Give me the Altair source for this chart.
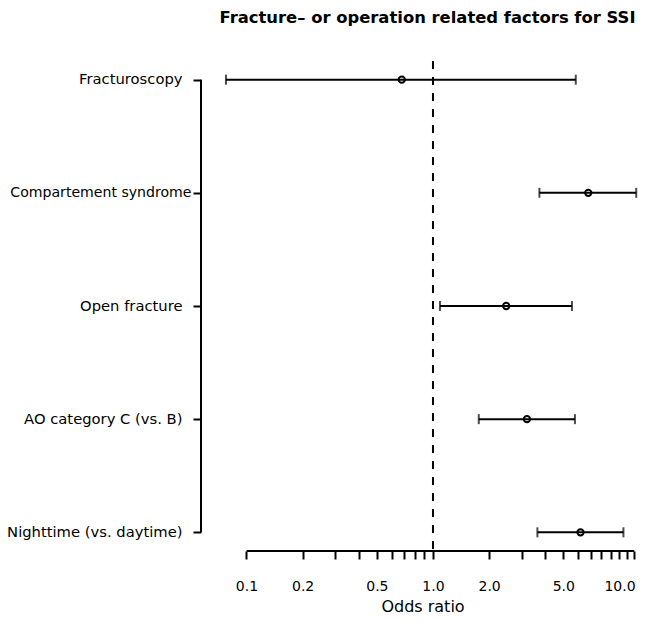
import altair as alt
import pandas as pd

# ---- data ----
categories = ["Fracturoscopy", "Compartement syndrome", "Open fracture",
              "AO category C (vs. B)", "Nighttime (vs. daytime)"]
odds_ratio = [0.68, 6.80, 2.47, 3.19, 6.18]
ci_lower = [0.0776, 3.72, 1.09, 1.76, 3.63]
ci_upper = [5.83, 12.3, 5.56, 5.77, 10.5]
tick_values = [0.1, 0.2, 0.3, 0.4, 0.5, 0.6, 0.7, 0.8, 0.9,
               1, 2, 3, 4, 5, 6, 7, 8, 9, 10, 11, 12]
label_values = [0.1, 0.2, 0.5, 1, 2, 5, 10]
reference_or = [1]
chart_title = "Fracture\u2013 or operation related factors for SSI"
x_title = "Odds ratio"

df = pd.DataFrame({"factor": categories, "or": odds_ratio,
                   "lo": ci_lower, "hi": ci_upper})
ref_df = pd.DataFrame({"ref": reference_or})
yline_df = pd.DataFrame({"a": [categories[0]], "b": [categories[-1]]})
xline_df = pd.DataFrame({"a": [tick_values[0]], "b": [tick_values[-1]]})

W, H = 437, 490
FONT = "DejaVu Sans"

xscale = alt.Scale(type="log", domain=[0.05702, 12.57], nice=False)
yscale = alt.Scale(type="point", domain=categories, padding=0.165)

long_label_test = f"datum.value === '{categories[1]}'"

xaxis = alt.Axis(
    title=x_title, values=tick_values, domain=False, grid=False,
    ticks=True, tickSize=8, tickWidth=2, tickColor="black",
    labelExpr=f"indexof({label_values}, datum.value) >= 0 ? format(datum.value, '.1f') : ''",
    labelFont=FONT, labelFontSize=14, labelColor="black", labelPadding=20,
    labelOverlap=False, labelFlush=False, labelBound=False,
    titleFont=FONT, titleFontSize=16, titleFontWeight="normal",
    titleColor="black", titleY=60.5, titleX=221.5, titleAlign="center",
    titleBaseline="alphabetic",
)
yaxis = alt.Axis(
    title=None, domain=False, grid=False, ticks=True, tickSize=8,
    tickWidth=2, tickColor="black",
    labelFont=FONT, labelColor="black", labelLimit=0,
    labelFontSize={"condition": {"test": long_label_test, "value": 14.1},
                   "value": 14.75},
    labelPadding={"condition": {"test": long_label_test, "value": 2},
                  "value": 11},
)

base = alt.Chart(df)

dashed = alt.Chart(ref_df).mark_rule(
    strokeDash=[8, 8], strokeWidth=2, color="black"
).encode(
    x=alt.X("ref:Q", scale=xscale, axis=xaxis),
    y=alt.value(0), y2=alt.value(H),
)

bars = base.mark_rule(strokeWidth=2, color="black").encode(
    x=alt.X("lo:Q", scale=xscale, axis=xaxis), x2="hi:Q",
    y=alt.Y("factor:N", scale=yscale, axis=yaxis),
)
cap_lo = base.mark_tick(thickness=2, size=10, color="black").encode(
    x=alt.X("lo:Q", scale=xscale, axis=xaxis),
    y=alt.Y("factor:N", scale=yscale, axis=yaxis),
)
cap_hi = base.mark_tick(thickness=2, size=10, color="black").encode(
    x=alt.X("hi:Q", scale=xscale, axis=xaxis),
    y=alt.Y("factor:N", scale=yscale, axis=yaxis),
)
points = base.mark_point(filled=False, size=40, strokeWidth=2, color="black",
                         opacity=1).encode(
    x=alt.X("or:Q", scale=xscale, axis=xaxis),
    y=alt.Y("factor:N", scale=yscale, axis=yaxis),
)
yline = alt.Chart(yline_df).mark_rule(strokeWidth=2, color="black").encode(
    x=alt.value(0),
    y=alt.Y("a:N", scale=yscale, axis=yaxis), y2="b",
)
xline = alt.Chart(xline_df).mark_rule(strokeWidth=2, color="black").encode(
    x=alt.X("a:Q", scale=xscale, axis=xaxis), x2="b:Q",
    y=alt.value(H),
)

chart = alt.layer(dashed, bars, cap_lo, cap_hi, points, yline, xline).properties(
    width=W, height=H,
    autosize=alt.AutoSizeParams(type="none"),
    padding={"left": 193, "top": 53, "right": 0, "bottom": 64},
    title=alt.TitleParams(
        text=chart_title, font=FONT, fontSize=16.4, fontWeight="bold",
        color="black", anchor="middle", offset=21, dx=8,
        baseline="alphabetic", frame="group",
    ),
).configure_view(stroke="transparent")

chart.save("out.html", embed_options={"renderer": "svg", "actions": False})
